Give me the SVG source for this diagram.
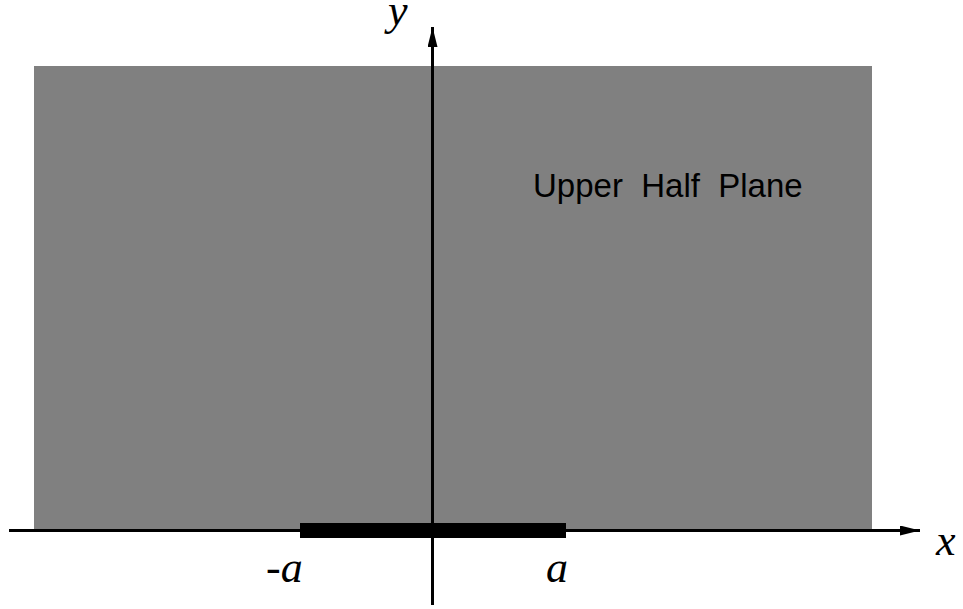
<svg xmlns="http://www.w3.org/2000/svg" width="963" height="609" viewBox="0 0 963 609">
<style>
.ax{stroke:#000;stroke-width:3;fill:none}
.lbl{font-family:"Liberation Serif",serif;font-style:italic;font-size:44px;fill:#000}
.t{font-family:"Liberation Sans",sans-serif;font-size:33px;fill:#000;white-space:pre}
</style>
<defs>
<marker id="ah" markerWidth="20" markerHeight="10" refX="20" refY="5" orient="auto" markerUnits="userSpaceOnUse">
<path d="M0,0 L20,5 L0,10 Z" fill="#000"/>
</marker>
</defs>
<rect id="plane" x="34" y="66" width="838" height="464" fill="#808080"/>
<g id="connectors">
<line class="ax" x1="9" y1="530.5" x2="920" y2="530.5" marker-end="url(#ah)"/>
<line class="ax" x1="432.5" y1="605" x2="432.5" y2="27" marker-end="url(#ah)"/>
</g>
<g id="segment"><rect x="300" y="523" width="266" height="15" fill="#000"/></g>
<g id="labels">
<text class="lbl" x="388" y="25">y</text>
<text class="lbl" x="936" y="555">x</text>
<text class="lbl" x="266" y="582">-a</text>
<text class="lbl" x="546" y="582">a</text>
<text class="t" x="533" y="197">Upper  Half  Plane</text>
</g>
</svg>
